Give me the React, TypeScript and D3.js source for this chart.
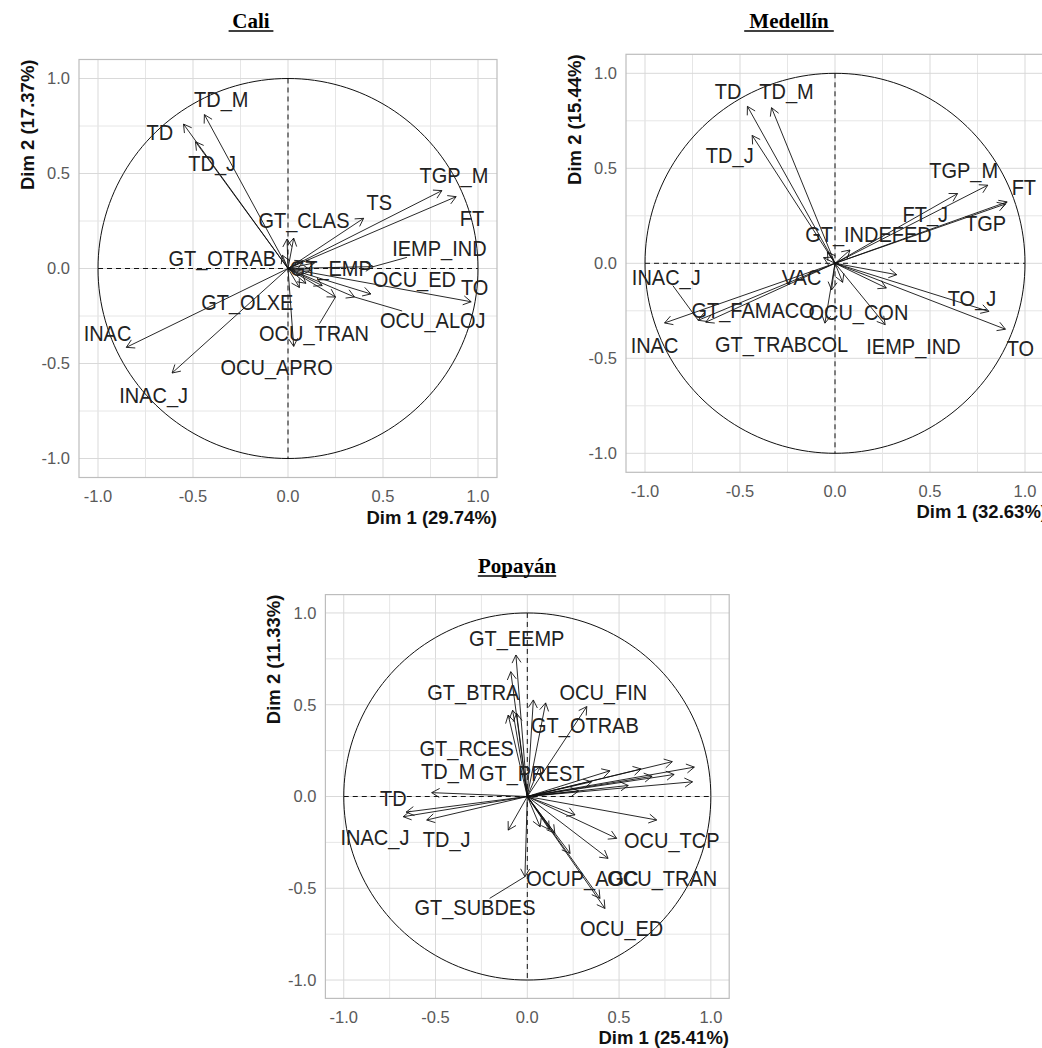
import React from "react";
import * as d3 from "d3";

// ---------------- Cali ----------------
const caliNames = ["TD_M", "TD", "TD_J", "TGP_M", "FT", "TS", "GT_CLAS", "", "GT_OTRAB", "IEMP_IND", "GT_EMP", "OCU_ED", "TO", "OCU_ALOJ", "OCU_TRAN", "OCU_APRO", "GT_OLXE", "INAC", "INAC_J", "", "", "", ""];
const caliDim1 = [-0.44, -0.55, -0.487, 0.81, 0.885, 0.398, 0.03, -0.005, -0.03, 0.45, 0.12, 0.436, 0.964, 0.35, 0.25, 0.03, 0.06, -0.851, -0.61, 0.094, 0.18, 0.08, 0.14];
const caliDim2 = [0.81, 0.76, 0.667, 0.41, 0.378, 0.264, 0.16, 0.155, 0.07, 0.01, -0.01, -0.134, -0.175, -0.15, -0.15, -0.41, -0.1, -0.415, -0.55, -0.078, -0.09, 0.04, 0.03];
const caliLabelDim1 = [-0.351, -0.675, -0.399, 0.873, 0.968, 0.48, 0.084, NaN, -0.346, 0.797, 0.225, 0.665, 0.982, 0.762, 0.137, -0.06, -0.214, -0.95, -0.707, NaN, NaN, NaN, NaN];
const caliLabelDim2 = [0.892, 0.717, 0.554, 0.492, 0.264, 0.348, 0.255, NaN, 0.054, 0.106, 0.005, -0.057, -0.096, -0.271, -0.338, -0.517, -0.175, -0.338, -0.666, NaN, NaN, NaN, NaN];
const caliLeaders = ["IEMP_IND", "OCU_ALOJ", "OCU_TRAN"];

// ---------------- Medellín ----------------
const medNames = ["TD", "TD_M", "TD_J", "TGP_M", "FT", "FT_J", "TGP", "GT_INDEFED", "VAC", "INAC_J", "INAC", "GT_FAMACO", "GT_TRABCOL", "OCU_CON", "IEMP_IND", "TO_J", "TO", "", "", "", ""];
const medDim1 = [-0.461, -0.334, -0.436, 0.804, 0.906, 0.645, 0.897, 0.079, -0.06, -0.72, -0.897, -0.68, -0.053, -0.018, 0.264, 0.81, 0.897, 0.325, 0.27, -0.04, 0.04];
const medDim2 = [0.826, 0.819, 0.673, 0.411, 0.323, 0.367, 0.312, 0.07, 0.03, -0.3, -0.314, -0.31, -0.315, -0.14, -0.323, -0.253, -0.347, -0.06, -0.13, 0.06, -0.1];
const medLabelDim1 = [-0.563, -0.255, -0.554, 0.677, 0.994, 0.475, 0.792, 0.176, -0.176, -0.888, -0.95, -0.431, -0.281, 0.123, 0.413, 0.721, 0.976, NaN, NaN, NaN, NaN];
const medLabelDim2 = [0.906, 0.906, 0.568, 0.49, 0.402, 0.262, 0.21, 0.157, -0.07, -0.07, -0.429, -0.245, -0.424, -0.254, -0.434, -0.184, -0.446, NaN, NaN, NaN, NaN];
const medLeaders = ["INAC_J"];

// ---------------- Popayán ----------------
const popNames = ["GT_EEMP", "GT_BTRA", "OCU_FIN", "GT_OTRAB", "", "GT_RCES", "", "", "TD_M", "TD", "INAC_J", "TD_J", "GT_PREST", "", "", "", "", "", "", "", "", "", "", "OCU_TCP", "", "", "OCU_TRAN", "OCUP_AGC", "", "", "OCU_ED", "", "", "GT_SUBDES", ""];
const popDim1 = [-0.062, -0.09, 0.324, 0.033, 0.1, -0.104, -0.058, -0.08, -0.521, -0.66, -0.676, -0.548, 0.069, 0.91, 0.79, 0.9, 0.8, 0.62, 0.45, 0.68, 0.55, 0.35, 0.28, 0.487, 0.705, 0.26, 0.44, 0.233, 0.07, 0.12, 0.423, 0.396, 0.15, -0.013, -0.104];
const popDim2 = [0.771, 0.68, 0.49, 0.526, 0.51, 0.444, 0.453, 0.47, 0.021, -0.085, -0.11, -0.128, 0.162, 0.16, 0.19, 0.08, 0.12, 0.15, 0.14, 0.11, 0.06, 0.08, 0.03, -0.228, -0.128, -0.1, -0.337, -0.31, -0.165, -0.18, -0.61, -0.555, -0.2, -0.437, -0.183];
const popLabelDim1 = [-0.058, -0.294, 0.414, 0.314, NaN, -0.33, NaN, NaN, -0.431, -0.73, -0.83, -0.439, 0.024, NaN, NaN, NaN, NaN, NaN, NaN, NaN, NaN, NaN, NaN, 0.787, NaN, NaN, 0.735, 0.3, NaN, NaN, 0.514, NaN, NaN, -0.285, NaN];
const popLabelDim2 = [0.862, 0.571, 0.571, 0.39, NaN, 0.263, NaN, NaN, 0.141, -0.01, -0.219, -0.233, 0.126, NaN, NaN, NaN, NaN, NaN, NaN, NaN, NaN, NaN, NaN, -0.237, NaN, NaN, -0.446, -0.446, NaN, NaN, -0.718, NaN, NaN, -0.604, NaN];
const popLeaders = ["GT_SUBDES"];

const axisTicks = [-1, -0.5, 0, 0.5, 1];
const gridValues = [-1, -0.75, -0.5, -0.25, 0, 0.25, 0.5, 0.75, 1];

const fmt = d3.formatLocale({ decimal: ".", thousands: ",", grouping: [3], currency: ["", ""], minus: "-" }).format(".1f");

const SANS = "'Liberation Sans', Arial, Helvetica, sans-serif";
const SERIF = "'Liberation Serif', 'Times New Roman', serif";

type PanelProps = {
  names: string[];
  d1: number[];
  d2: number[];
  l1: number[];
  l2: number[];
  leaders: string[];
  left: number;
  top: number;
  size: number;
  xTitle: string;
  yTitle: string;
  xTitleEnd: number;
  title: string;
  titleX: number;
  titleY: number;
};

function Panel(p: PanelProps) {
  const x = d3.scaleLinear().domain([-1.1, 1.1]).range([p.left, p.left + p.size]);
  const y = d3.scaleLinear().domain([-1.1, 1.1]).range([p.top + p.size, p.top]);
  const bottom = p.top + p.size;
  const circle = d3.range(0, 361, 2).map((a) => [Math.cos((a * Math.PI) / 180), Math.sin((a * Math.PI) / 180)]);
  const circlePath = d3.line<number[]>().x((d) => x(d[0])).y((d) => y(d[1]))(circle) || "";
  const x0 = x(0);
  const y0 = y(0);
  const fs = 20;
  const headLen = 9;
  const titleW = p.title.length * 11.2;

  const arrows = p.d1.map((v, i) => {
    const tx = x(v);
    const ty = y(p.d2[i]);
    const ang = Math.atan2(ty - y0, tx - x0);
    const a1 = ang + Math.PI - Math.PI / 6;
    const a2 = ang + Math.PI + Math.PI / 6;
    const head = `M${tx + headLen * Math.cos(a1)},${ty + headLen * Math.sin(a1)}L${tx},${ty}L${tx + headLen * Math.cos(a2)},${ty + headLen * Math.sin(a2)}`;
    return (
      <g key={"a" + i}>
        <line x1={x0} y1={y0} x2={tx} y2={ty} stroke="#111" strokeWidth={0.9} />
        <path d={head} fill="none" stroke="#111" strokeWidth={0.9} />
      </g>
    );
  });

  const labels = p.names.map((n, i) => {
    if (!n || isNaN(p.l1[i])) return null;
    const lx = x(p.l1[i]);
    const ly = y(p.l2[i]);
    let seg = null;
    if (p.leaders.includes(n)) {
      const tx = x(p.d1[i]);
      const ty = y(p.d2[i]);
      const hw = n.length * fs * 0.31 + 2;
      const hh = fs * 0.45;
      const dx = tx - lx;
      const dy = ty - ly;
      const t = Math.min(Math.abs(dx) > 0 ? hw / Math.abs(dx) : 1e9, Math.abs(dy) > 0 ? hh / Math.abs(dy) : 1e9);
      if (t < 1) seg = <line x1={lx + dx * t} y1={ly + dy * t} x2={tx} y2={ty} stroke="#111" strokeWidth={0.9} />;
    }
    return (
      <g key={"l" + i}>
        {seg}
        <text transform={`translate(${lx},${ly}) scale(1,1.12)`} dy="0.36em" textAnchor="middle" fontFamily={SANS} fontSize={fs} fill="#222">
          {n}
        </text>
      </g>
    );
  });

  return (
    <g>
      <rect x={p.left} y={p.top} width={p.size} height={p.size} fill="#fff" stroke="none" />
      {gridValues.map((g) => (
        <g key={"g" + g}>
          <line x1={x(g)} x2={x(g)} y1={p.top} y2={bottom} stroke={g * 2 === Math.round(g * 2) ? "#d9d9d9" : "#e6e6e6"} strokeWidth={1} />
          <line x1={p.left} x2={p.left + p.size} y1={y(g)} y2={y(g)} stroke={g * 2 === Math.round(g * 2) ? "#d9d9d9" : "#e6e6e6"} strokeWidth={1} />
        </g>
      ))}
      <rect x={p.left} y={p.top} width={p.size} height={p.size} fill="none" stroke="#bdbdbd" strokeWidth={1.2} />
      <path d={circlePath} fill="none" stroke="#111" strokeWidth={1} />
      <line x1={x(-1)} x2={x(1)} y1={y0} y2={y0} stroke="#111" strokeWidth={1} strokeDasharray="5,4" />
      <line x1={x0} x2={x0} y1={y(1)} y2={y(-1)} stroke="#111" strokeWidth={1} strokeDasharray="5,4" />
      {arrows}
      {labels}
      {axisTicks.map((t) => (
        <text key={"xt" + t} x={x(t)} y={bottom + 19} dy="0.36em" textAnchor="middle" fontFamily={SANS} fontSize={16.5} fill="#595959">
          {fmt(t)}
        </text>
      ))}
      {axisTicks.map((t) => (
        <text key={"yt" + t} x={p.left - 9} y={y(t)} dy="0.36em" textAnchor="end" fontFamily={SANS} fontSize={16.5} fill="#595959">
          {fmt(t)}
        </text>
      ))}
      <text x={p.xTitleEnd} y={bottom + 46} textAnchor="end" fontFamily={SANS} fontWeight="bold" fontSize={18.5} fill="#111">
        {p.xTitle}
      </text>
      <text transform={`translate(${p.left - 52},${p.top}) rotate(-90)`} dy="0.36em" textAnchor="end" fontFamily={SANS} fontWeight="bold" fontSize={18.5} fill="#111">
        {p.yTitle}
      </text>
      <text x={p.titleX} y={p.titleY} textAnchor="middle" fontFamily={SERIF} fontWeight="bold" fontSize={21} fill="#000">
        {p.title}
      </text>
      <line x1={p.titleX - titleW / 2} x2={p.titleX + titleW / 2} y1={p.titleY + 3} y2={p.titleY + 3} stroke="#000" strokeWidth={1.5} />
    </g>
  );
}

export default function App() {
  return (
    <svg width={1042} height={1048} style={{ position: "absolute", left: 0, top: 0, background: "#fff" }}>
      <rect x={0} y={0} width={1042} height={1048} fill="#fff" />
      <Panel names={caliNames} d1={caliDim1} d2={caliDim2} l1={caliLabelDim1} l2={caliLabelDim2} leaders={caliLeaders}
        left={79} top={59.5} size={418} xTitle="Dim 1 (29.74%)" yTitle="Dim 2 (17.37%)" xTitleEnd={497}
        title="Cali" titleX={251} titleY={28} />
      <Panel names={medNames} d1={medDim1} d2={medDim2} l1={medLabelDim1} l2={medLabelDim2} leaders={medLeaders}
        left={626} top={54.3} size={418} xTitle="Dim 1 (32.63%)" yTitle="Dim 2 (15.44%)" xTitleEnd={1047}
        title="Medellín" titleX={789} titleY={28} />
      <Panel names={popNames} d1={popDim1} d2={popDim2} l1={popLabelDim1} l2={popLabelDim2} leaders={popLeaders}
        left={325.4} top={594.6} size={403.8} xTitle="Dim 1 (25.41%)" yTitle="Dim 2 (11.33%)" xTitleEnd={729}
        title="Popayán" titleX={517} titleY={573} />
    </svg>
  );
}
